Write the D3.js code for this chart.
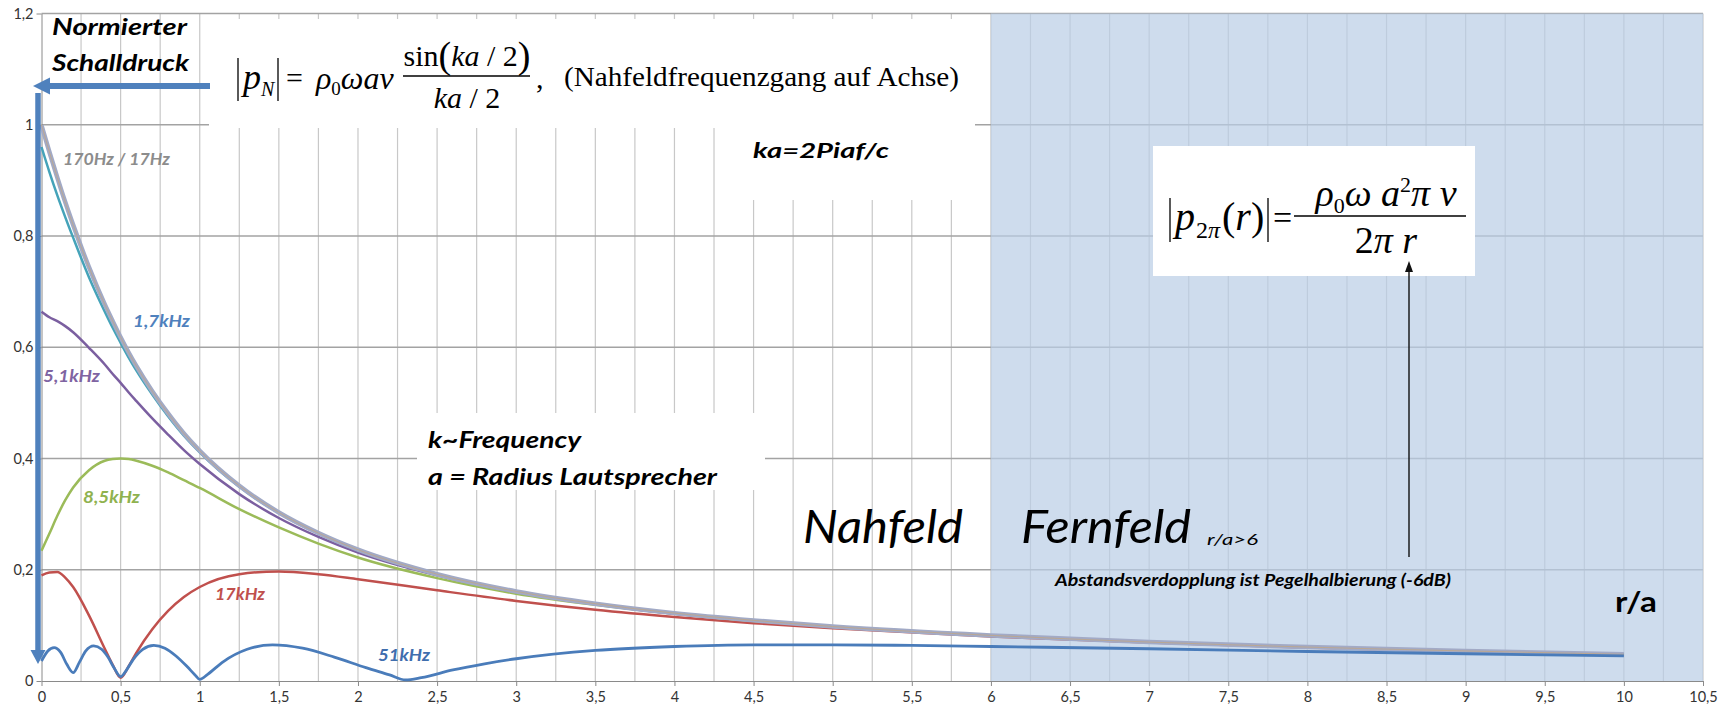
<!DOCTYPE html>
<html>
<head>
<meta charset="utf-8">
<script src="https://cdn.jsdelivr.net/npm/d3@7"></script>
<style>
  body { margin: 0; background: #fff; }
  svg { display: block; }
  .axis text { font-family: Lato, sans-serif; font-size: 14.5px; fill: #333; }
  .axis line, .axis path { stroke: #8a8a8a; }
</style>
</head>
<body>
<svg id="chart" width="1735" height="711"></svg>
<script>
// r/a sample points shared by the smooth curves
const rValues = [0, 0.05, 0.1, 0.15, 0.2, 0.3, 0.4, 0.45, 0.5, 0.55, 0.6, 0.7, 0.8, 0.9, 1,
  1.25, 1.5, 1.75, 2, 2.5, 3, 3.5, 4, 4.5, 5, 6, 7, 8, 9, 10];

const p17Hz = [1.000, 0.951, 0.905, 0.861, 0.820, 0.744, 0.677, 0.647, 0.618, 0.591, 0.566, 0.521, 0.481, 0.445, 0.414,
  0.351, 0.303, 0.266, 0.236, 0.192, 0.161, 0.139, 0.122, 0.109, 0.098, 0.082, 0.070, 0.061, 0.054, 0.048];
const p170Hz = [0.999, 0.951, 0.905, 0.861, 0.820, 0.744, 0.677, 0.647, 0.618, 0.591, 0.566, 0.521, 0.481, 0.445, 0.414,
  0.351, 0.303, 0.266, 0.236, 0.192, 0.161, 0.139, 0.122, 0.109, 0.098, 0.082, 0.070, 0.061, 0.054, 0.048];
const p1k7 = [0.960, 0.915, 0.873, 0.834, 0.797, 0.726, 0.664, 0.635, 0.608, 0.582, 0.558, 0.515, 0.476, 0.441, 0.411,
  0.349, 0.302, 0.265, 0.235, 0.192, 0.161, 0.139, 0.122, 0.109, 0.098, 0.082, 0.070, 0.061, 0.054, 0.048];
const p5k1 = [0.664, 0.654, 0.647, 0.638, 0.627, 0.599, 0.569, 0.552, 0.536, 0.519, 0.503, 0.472, 0.443, 0.415, 0.390,
  0.336, 0.293, 0.259, 0.231, 0.190, 0.160, 0.138, 0.121, 0.109, 0.098, 0.082, 0.070, 0.061, 0.054, 0.048];
const p8k5 = [0.234, 0.265, 0.297, 0.325, 0.348, 0.379, 0.396, 0.399, 0.400, 0.399, 0.396, 0.387, 0.375, 0.361, 0.347,
  0.309, 0.276, 0.247, 0.222, 0.185, 0.157, 0.137, 0.121, 0.108, 0.098, 0.082, 0.070, 0.061, 0.054, 0.048];
const p17k = [0.190, 0.195, 0.196, 0.186, 0.169, 0.118, 0.058, 0.029, 0.006, 0.026, 0.051, 0.093, 0.126, 0.151, 0.169,
  0.192, 0.197, 0.192, 0.183, 0.163, 0.144, 0.128, 0.115, 0.104, 0.095, 0.080, 0.069, 0.060, 0.053, 0.047];

// 51 kHz needs its own, denser sampling
const r51 = [0, 0.04, 0.08, 0.12, 0.16, 0.2, 0.24, 0.28, 0.33, 0.38, 0.42, 0.46, 0.5, 0.54, 0.58, 0.64, 0.71, 0.78,
  0.85, 0.92, 0.97, 1, 1.05, 1.15, 1.3, 1.46, 1.65, 1.85, 2.05, 2.2, 2.3, 2.4, 2.6, 2.8, 3, 3.5, 4, 4.5, 5, 5.5,
  6, 7, 8, 9, 10];
const p51k = [0.036, 0.054, 0.060, 0.052, 0.030, 0.015, 0.034, 0.054, 0.063, 0.057, 0.043, 0.023, 0.008, 0.021, 0.039,
  0.057, 0.064, 0.059, 0.045, 0.026, 0.011, 0.003, 0.012, 0.035, 0.057, 0.065, 0.059, 0.043, 0.024, 0.011,
  0.002, 0.006, 0.020, 0.031, 0.040, 0.055, 0.062, 0.065, 0.065, 0.064, 0.062, 0.058, 0.053, 0.049, 0.045];

const xTicks = [0, 0.5, 1, 1.5, 2, 2.5, 3, 3.5, 4, 4.5, 5, 5.5, 6, 6.5, 7, 7.5, 8, 8.5, 9, 9.5, 10, 10.5];
const yTicks = [0, 0.2, 0.4, 0.6, 0.8, 1, 1.2];
const farFieldStart = 6;

const svg = d3.select("#chart");
const x = d3.scaleLinear().domain([0, 10.5]).range([41.5, 1703]);
const y = d3.scaleLinear().domain([0, 1.2]).range([681, 13.5]);
const fmt = d => String(d).replace(".", ",");

// grid
const grid = svg.append("g");
grid.selectAll(".vg")
  .data(d3.range(0.25, 10.51, 0.25))
  .enter().append("line")
  .attr("x1", d => x(d)).attr("x2", d => x(d))
  .attr("y1", y(1.2)).attr("y2", y(0))
  .attr("stroke", "#c8c8c8").attr("stroke-width", 1.2);
grid.selectAll(".hg")
  .data(yTicks.slice(1))
  .enter().append("line")
  .attr("x1", x(0)).attr("x2", x(10.5))
  .attr("y1", d => y(d)).attr("y2", d => y(d))
  .attr("stroke", "#a3a3a3").attr("stroke-width", 1.4);

// far field shading
svg.append("rect")
  .attr("x", x(farFieldStart)).attr("y", y(1.2))
  .attr("width", x(10.5) - x(farFieldStart)).attr("height", y(0) - y(1.2))
  .attr("fill", "#b9cde5").attr("fill-opacity", 0.7);

// axes
svg.append("g")
  .attr("class", "axis")
  .attr("transform", `translate(0,${y(0)})`)
  .call(d3.axisBottom(x).tickValues(xTicks).tickFormat(fmt).tickSize(5).tickSizeOuter(0).tickPadding(6));
svg.append("g")
  .attr("class", "axis")
  .attr("transform", `translate(${x(0)},0)`)
  .call(d3.axisLeft(y).tickValues(yTicks).tickFormat(fmt).tickSize(5).tickSizeOuter(0).tickPadding(3));

// white text boxes covering the grid
const boxes = [[209, 19, 766, 109], [735, 126, 240, 74], [417, 413, 348, 77], [1153, 146, 322, 130]];
svg.selectAll(".box").data(boxes).enter().append("rect")
  .attr("x", d => d[0]).attr("y", d => d[1]).attr("width", d => d[2]).attr("height", d => d[3])
  .attr("fill", "#fff");

// curves
const series = [
  { r: rValues, v: p17k, color: "#c0504d", w: 2.5 },
  { r: rValues, v: p8k5, color: "#9bbb59", w: 2.5 },
  { r: rValues, v: p5k1, color: "#7b5fa0", w: 2.5 },
  { r: rValues, v: p1k7, color: "#45a3b9", w: 2.5 },
  { r: rValues, v: p170Hz, color: "#a2aac6", w: 4.5 },
  { r: rValues, v: p17Hz, color: "#c4a57c", w: 1, o: 0.7 },
  { r: r51, v: p51k, color: "#4a7cba", w: 2.8 }
];
const line = d3.line().x(d => x(d[0])).y(d => y(d[1])).curve(d3.curveMonotoneX);
svg.append("g").selectAll("path")
  .data(series)
  .enter().append("path")
  .attr("d", s => line(s.r.map((r, i) => [r, s.v[i]])))
  .attr("fill", "none")
  .attr("stroke", s => s.color)
  .attr("stroke-width", s => s.w)
  .attr("stroke-opacity", s => s.o || 1)
  .attr("stroke-linejoin", "round");

// blue arrows
const blue = "#4f81bd";
svg.append("line").attr("x1", 210).attr("x2", 48).attr("y1", 86).attr("y2", 86)
  .attr("stroke", blue).attr("stroke-width", 6);
svg.append("path").attr("d", "M33,86 L50,77.5 L50,94.5 Z").attr("fill", blue);
svg.append("line").attr("x1", 38).attr("x2", 38).attr("y1", 93).attr("y2", 652)
  .attr("stroke", blue).attr("stroke-width", 5.5);
svg.append("path").attr("d", "M38,664 L30.5,650 L45.5,650 Z").attr("fill", blue);

// black arrow to far field formula
svg.append("line").attr("x1", 1409).attr("x2", 1409).attr("y1", 557).attr("y2", 270)
  .attr("stroke", "#111").attr("stroke-width", 1.4);
svg.append("path").attr("d", "M1409,261 L1405,272 L1413,272 Z").attr("fill", "#111");

// text annotations
function label(t, px, py, size, opts) {
  const el = svg.append("text")
    .attr("x", px).attr("y", py)
    .attr("font-family", "Lato, sans-serif")
    .attr("font-size", size)
    .attr("font-weight", opts.weight || "bold")
    .attr("font-style", opts.style || "italic")
    .attr("fill", opts.color || "#000")
    .text(t);
  if (opts.len) el.attr("textLength", opts.len).attr("lengthAdjust", "spacingAndGlyphs");
  return el;
}
label("Normierter", 52, 35, 23, { len: 135 });
label("Schalldruck", 52, 71, 23, { len: 137 });
label("ka=2Piaf/c", 753, 158, 20, { len: 136 });
label("170Hz / 17Hz", 63, 165, 17, { color: "#8c8c8c", len: 107 });
label("1,7kHz", 133, 327, 17, { color: "#4f81bd", len: 57 });
label("5,1kHz", 43, 382, 17, { color: "#7f64a2", len: 57 });
label("8,5kHz", 83, 503, 17, { color: "#8fb24f", len: 57 });
label("17kHz", 215, 600, 17, { color: "#c0504d", len: 50 });
label("51kHz", 378, 661, 17, { color: "#3f6eae", len: 52 });
label("k~Frequency", 428, 448, 23, { len: 153 });
label("a = Radius Lautsprecher", 428, 485, 23, { len: 289 });
label("Nahfeld", 803, 543, 46, { weight: "normal", len: 160 });
label("Fernfeld", 1021, 543, 46, { weight: "normal", len: 170 });
label("r/a>6", 1207, 545, 15, { weight: "normal", len: 51 });
label("Abstandsverdopplung ist Pegelhalbierung  (-6dB)", 1055, 586, 17, { len: 396 });
label("r/a", 1615, 612, 29, { style: "normal", len: 42 });

// formulas (Times)
const serif = "'Liberation Serif', 'Times New Roman', serif";
function ftext(px, py, size, anchor) {
  return svg.append("text").attr("x", px).attr("y", py)
    .attr("font-family", serif).attr("font-size", size)
    .attr("text-anchor", anchor || "start").attr("fill", "#000");
}
function bar(x1, y1, x2, y2, w) {
  svg.append("line").attr("x1", x1).attr("y1", y1).attr("x2", x2).attr("y2", y2)
    .attr("stroke", "#000").attr("stroke-width", w || 1.3);
}

// |p_N| = rho0 omega a v sin(ka/2)/(ka/2)
bar(238, 58, 238, 101);
bar(278, 58, 278, 101);
ftext(243, 89, 36).attr("font-style", "italic").text("p");
ftext(261, 96, 20).attr("font-style", "italic").text("N");
ftext(286, 88, 30).text("=");
const rho = ftext(316, 89, 32);
rho.append("tspan").attr("font-style", "italic").text("ρ");
rho.append("tspan").attr("font-size", 19).attr("dy", 6).text("0");
rho.append("tspan").attr("font-style", "italic").attr("dy", -6).text("ωav");
const num = ftext(467, 66, 30, "middle");
num.append("tspan").text("sin");
num.append("tspan").attr("font-size", 38).attr("dy", 2).text("(");
num.append("tspan").attr("font-style", "italic").attr("dy", -2).text("ka");
num.append("tspan").text(" / 2");
num.append("tspan").attr("font-size", 38).attr("dy", 2).text(")");
bar(403, 76, 530, 76, 1.5);
const den = ftext(467, 108, 30, "middle");
den.append("tspan").attr("font-style", "italic").text("ka");
den.append("tspan").text(" / 2");
ftext(536, 88, 30).text(",");
ftext(564, 86, 27).attr("textLength", 395).attr("lengthAdjust", "spacingAndGlyphs")
  .text("(Nahfeldfrequenzgang auf Achse)");

// |p_2pi(r)| = rho0 omega a^2 pi v / (2 pi r)
bar(1170, 198, 1170, 242);
bar(1268, 198, 1268, 242);
ftext(1175, 230, 40).attr("font-style", "italic").text("p");
const sub = ftext(1196, 238, 24);
sub.append("tspan").text("2");
sub.append("tspan").attr("font-style", "italic").text("π");
const rr = ftext(1222, 230, 40);
rr.append("tspan").text("(");
rr.append("tspan").attr("font-style", "italic").text("r");
rr.append("tspan").text(")");
ftext(1273, 229, 34).text("=");
const num2 = ftext(1386, 206, 38, "middle");
num2.append("tspan").attr("font-style", "italic").text("ρ");
num2.append("tspan").attr("font-size", 22).attr("dy", 7).text("0");
num2.append("tspan").attr("font-style", "italic").attr("dy", -7).text("ω a");
num2.append("tspan").attr("font-size", 22).attr("dy", -14).text("2");
num2.append("tspan").attr("font-style", "italic").attr("dy", 14).text("π v");
bar(1294, 216, 1466, 216, 1.5);
const den2 = ftext(1386, 253, 38, "middle");
den2.append("tspan").text("2");
den2.append("tspan").attr("font-style", "italic").text("π r");
</script>
</body>
</html>
